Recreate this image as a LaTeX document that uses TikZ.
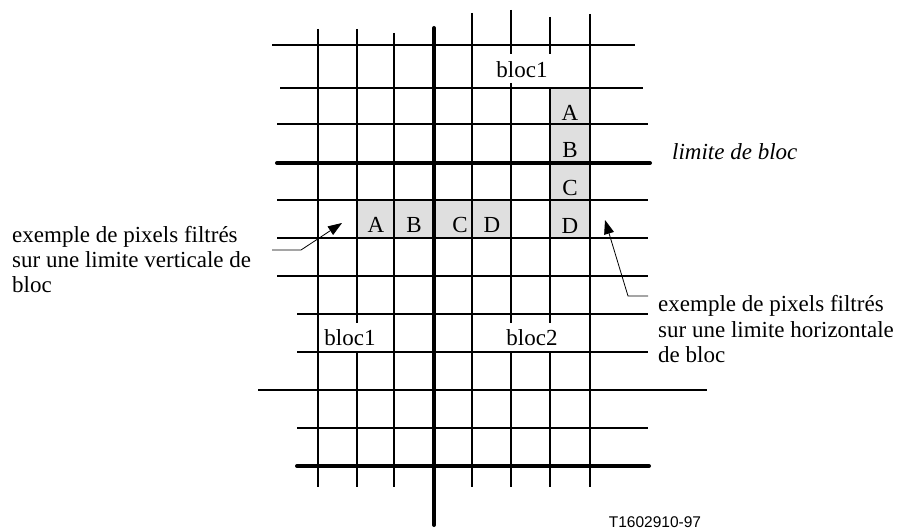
\documentclass[tikz,border=0pt]{standalone}
\usepackage{fontspec}
\setmainfont{Liberation Serif}
\newfontfamily\labelsans{Liberation Sans}
\usetikzlibrary{arrows.meta}
\begin{document}
\begin{tikzpicture}[x=1pt,y=-1pt,
  grid/.style={line width=2pt},
  bound/.style={line width=4pt, line cap=round},
  cell/.style={fill=gray!25, draw=none},
  pix/.style={font=\fontsize{23}{27}\selectfont, anchor=base, inner sep=0pt},
  note/.style={font=\fontsize{23}{27}\selectfont, anchor=base west, inner sep=0pt},
  ptr/.style={line width=0.8pt, -{Triangle[length=14pt,width=10pt]}}
]
\useasboundingbox (0,0) rectangle (902,529);
% shaded pixels
\path[cell] (357,200) rectangle (511,238);
\path[cell] (550,88) rectangle (590,238);
% horizontal lines
\draw[grid] (272,45) -- (635,45);
\draw[grid] (280,88) -- (643,88);
\draw[grid] (277,124) -- (648,124);
\draw[bound] (277,163) -- (650,163);
\draw[grid] (277,200) -- (648,200);
\draw[grid] (277,238) -- (648,238);
\draw[grid] (277,276) -- (648,276);
\draw[grid] (297,314) -- (648,314);
\draw[grid] (297,352) -- (648,352);
\draw[grid] (258,390) -- (707,390);
\draw[grid] (297,428) -- (648,428);
\draw[bound] (297,466) -- (649,466);
% vertical lines
\draw[grid] (318,29) -- (318,487);
\draw[grid] (357,29) -- (357,323) (357,352) -- (357,487);
\draw[grid] (394,33) -- (394,487);
\draw[bound] (434,28) -- (434,525);
\draw[grid] (472,13) -- (472,487);
\draw[grid] (511,10) -- (511,54) (511,83) -- (511,323) (511,352) -- (511,487);
\draw[grid] (550,17) -- (550,54) (550,88) -- (550,323) (550,352) -- (550,487);
\draw[grid] (590,14) -- (590,487);
% block labels
\node[pix] (b1top) at (522,78) {bloc1};
\node[pix] (b1bot) at (350,345) {bloc1};
\node[pix] (b2bot) at (532,345) {bloc2};
% pixel letters (row)
\node[pix] (rA) at (376,233) {A};
\node[pix] (rB) at (414,233) {B};
\node[pix] (rC) at (460,233) {C};
\node[pix] (rD) at (492,233) {D};
% pixel letters (column)
\node[pix] (cA) at (570,121) {A};
\node[pix] (cB) at (570,158) {B};
\node[pix] (cC) at (570,196) {C};
\node[pix] (cD) at (570,234) {D};
% notes
\node[note, font=\fontsize{23}{27}\itshape] (lim) at (672,160) {limite de bloc};
\node[note] (v1) at (12,243) {exemple de pixels filtrés};
\node[note] (v2) at (12,268) {sur une limite verticale de};
\node[note] (v3) at (12,293) {bloc};
\node[note] (h1) at (658,312) {exemple de pixels filtrés};
\node[note] (h2) at (658,337) {sur une limite horizontale};
\node[note] (h3) at (658,362) {de bloc};
\node[anchor=base, inner sep=0pt, font=\labelsans\fontsize{15.5}{18}\selectfont] (ref) at (655,527) {T1602910-97};
% pointers
\coordinate (l0) at (272,250);
\coordinate (l1) at (301,250);
\coordinate (l2) at (342,223);
\draw[ptr] (l0) -- (l1) -- (l2);
\coordinate (r0) at (648,296);
\coordinate (r1) at (628,296);
\coordinate (r2) at (605,220);
\draw[ptr] (r0) -- (r1) -- (r2);
\end{tikzpicture}
\end{document}
